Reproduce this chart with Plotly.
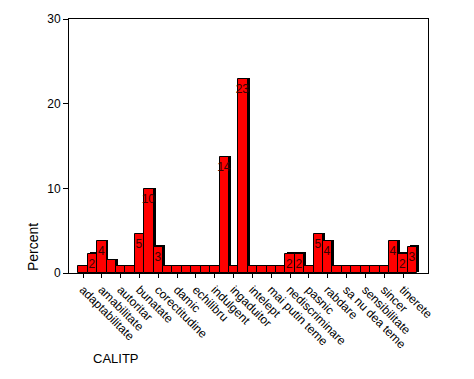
import plotly.graph_objects as go

# Category positions (36 bars); only every other category is labelled on the axis
positions = list(range(36))
tick_positions = [0, 2, 4, 6, 8, 10, 12, 14, 16, 18, 20, 22, 24, 26, 28, 30, 32, 34]
tick_labels = ["adaptabilitate", "amabilitate", "autoritar", "bunatate", "corectitudine",
               "damic", "echilibru", "indulgent", "ingaduitor", "intelept",
               "mai putin teme", "nediscriminare", "pasnic", "rabdare", "sa nu dea teme",
               "sensibilitate", "sincer", "tinerete"]

# Percent values
percent = [0.8, 2.3, 3.8, 1.5, 0.8, 0.8, 4.6, 9.9, 3.1, 0.8,
           0.8, 0.8, 0.8, 0.8, 0.8, 13.7, 0.8, 22.9, 0.8, 0.8,
           0.8, 0.8, 2.3, 2.3, 0.8, 4.6, 3.8, 0.8, 0.8, 0.8,
           0.8, 0.8, 0.8, 3.8, 2.3, 3.1]
bar_text = ["" if v < 2 else f"{v:.0f}" for v in percent]

fig = go.Figure()
# shadow (3D effect)
fig.add_trace(go.Bar(x=positions, y=percent, base=0.15, offset=-0.3, width=1.0,
                     marker=dict(color="black", line=dict(width=0)),
                     hoverinfo="skip", showlegend=False))
fig.add_trace(go.Bar(x=positions, y=percent, width=1.0,
                     marker=dict(color="#FF0000", line=dict(color="black", width=1)),
                     text=bar_text, textposition="inside", insidetextanchor="end",
                     textangle=0, textfont=dict(family="Arial", size=12, color="#3a0000"),
                     showlegend=False))

fig.update_layout(
    width=474, height=379,
    margin=dict(l=69, r=46, t=19, b=106),
    paper_bgcolor="white", plot_bgcolor="white",
    barmode="overlay", bargap=0,
    uniformtext=dict(minsize=12, mode="show"),
    font=dict(family="Arial", color="black"),
    showlegend=False,
)
fig.update_xaxes(range=[-1.49, 36.65], tickmode="array", tickvals=tick_positions,
                 ticktext=tick_labels, tickangle=45, ticks="outside", ticklen=4,
                 tickcolor="black", tickfont=dict(family="Arial", size=12, color="black"),
                 showline=True, linecolor="black", linewidth=1, mirror=True,
                 showgrid=False, zeroline=False)
fig.update_yaxes(range=[0, 30], tickvals=[0, 10, 20, 30], ticks="outside", ticklen=5,
                 tickcolor="black", tickfont=dict(family="Arial", size=12, color="black"),
                 showline=True, linecolor="black", linewidth=1, mirror=True,
                 showgrid=False, zeroline=False)

fig.add_annotation(text="Percent", xref="paper", yref="paper", x=-0.10, y=0.0,
                   xanchor="center", yanchor="bottom", textangle=-90, showarrow=False,
                   font=dict(family="Arial", size=14, color="black"))
fig.add_annotation(text="CALITP", xref="paper", yref="paper", x=0.06, y=-0.335,
                   xanchor="left", yanchor="middle", showarrow=False,
                   font=dict(family="Arial", size=13, color="black"))

fig.write_html("out.html", config={"displayModeBar": False},
               post_script="document.body.style.margin='0';document.body.style.padding='0';window.dispatchEvent(new Event('resize'));")
